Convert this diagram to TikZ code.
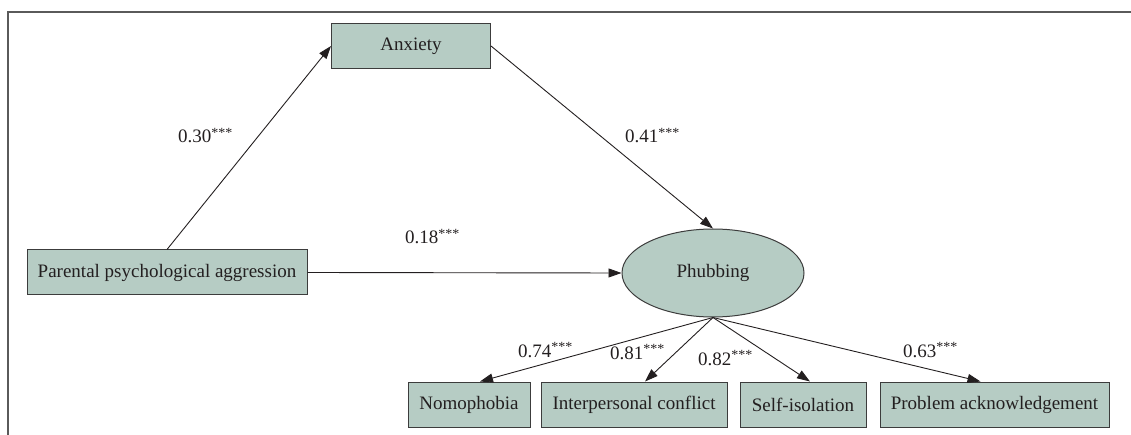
\documentclass[tikz,border=0pt]{standalone}
\usepackage{fontspec}
\setmainfont{Liberation Serif}
\usetikzlibrary{shapes.geometric,arrows.meta}
\definecolor{boxfill}{RGB}{182,204,196}
\definecolor{boxline}{RGB}{60,60,60}
\definecolor{txt}{RGB}{35,31,32}
\definecolor{framec}{RGB}{90,90,90}
\newcommand{\stars}{\raisebox{5.5pt}{\fontsize{14}{14}\selectfont ***}}
\tikzset{
  var/.style={draw=boxline, fill=boxfill, line width=1pt, inner sep=0pt, minimum height=45pt, text=txt, font=\fontsize{19}{23}\selectfont},
  latent/.style={ellipse, draw=boxline, fill=boxfill, line width=1pt, inner sep=0pt, minimum width=182pt, minimum height=88pt, text=txt, font=\fontsize{19}{23}\selectfont},
  conn/.style={line width=0.9pt, draw=txt, -{Triangle[length=13pt,width=9pt]}},
  coef/.style={anchor=base west, inner sep=0pt, text=txt, font=\fontsize{19}{23}\selectfont}
}
\begin{document}
\begin{tikzpicture}[x=1pt,y=-1pt]
\useasboundingbox (0,0) rectangle (1131,435);
% frame
\draw[framec, line width=1.6pt] (8,435) -- (8,12) -- (1131,12);
% nodes
\node[var, minimum width=159pt] (anx) at (411,46) {Anxiety};
\node[var, minimum width=280pt] (ppa) at (167,272.5) {Parental psychological aggression};
\node[latent] (phub) at (713,273) {Phubbing};
\node[var, minimum width=122pt] (nomo) at (469,404.5) {Nomophobia};
\node[var, minimum width=186pt] (ipc) at (634,404.5) {Interpersonal conflict};
\node[var, minimum width=126pt] (self) at (803,404.5) {Self-isolation};
\node[var, minimum width=229pt] (prob) at (994.5,404.5) {Problem acknowledgement};
% connectors
\draw[conn] (ppa.north) -- (anx.west);
\draw[conn] (anx.east) -- (phub.north);
\draw[conn] (ppa.east) -- (phub.west);
\draw[conn] (phub.south) -- ([xshift=11pt]nomo.north);
\draw[conn] (phub.south) -- ([xshift=11pt]ipc.north);
\draw[conn] (phub.south) -- ([xshift=7pt]self.north);
\draw[conn] (phub.south) -- ([xshift=-14pt]prob.north);
% coefficients
\node[coef] (c1) at (178,143) {0.30\stars};
\node[coef] (c2) at (625,143) {0.41\stars};
\node[coef] (c3) at (405,244) {0.18\stars};
\node[coef] (c4) at (518,357) {0.74\stars};
\node[coef] (c5) at (610,359) {0.81\stars};
\node[coef] (c6) at (698,365) {0.82\stars};
\node[coef] (c7) at (903,357) {0.63\stars};
\end{tikzpicture}
\end{document}
